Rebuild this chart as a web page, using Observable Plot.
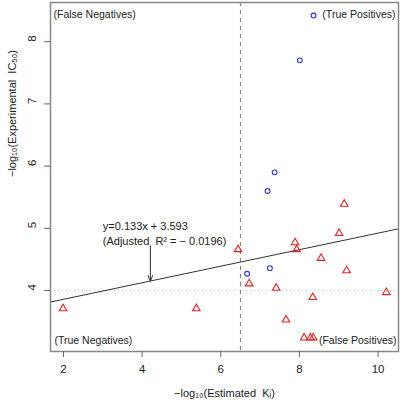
<!DOCTYPE html>
<html>
<head>
<meta charset="utf-8">
<script src="https://cdn.jsdelivr.net/npm/d3@7"></script>
<script src="https://cdn.jsdelivr.net/npm/@observablehq/plot@0.6"></script>
<style>
  html, body { margin: 0; padding: 0; background: #fff; }
</style>
</head>
<body>
<div id="chart"></div>
<script>
// Blue circles (true / positive hits)
const blueX = [8.36, 8.01, 7.37, 7.19, 6.67, 7.25];
const blueY = [8.42, 7.70, 5.90, 5.60, 4.27, 4.36];
// Red triangles
const redX = [9.14, 9.01, 7.89, 7.93, 6.44, 8.55, 9.20, 6.72, 7.41, 10.21, 8.34, 7.66, 8.12, 8.28, 8.35, 1.99, 5.38];
const redY = [5.39, 4.92, 4.77, 4.66, 4.66, 4.52, 4.32, 4.11, 4.04, 3.97, 3.89, 3.53, 3.24, 3.24, 3.24, 3.71, 3.71];

const slope = 0.133, intercept = 3.593;
const xThreshold = 6.5, yThreshold = 4;
const xDomain = [1.67, 10.52], yDomain = [3.02, 8.63];
const xTicks = [2, 4, 6, 8, 10];
const yTicks = [4, 5, 6, 7, 8];
const eqLines = ["y=0.133x + 3.593", "(Adjusted  R\u00B2 = \u2212 0.0196)"];
const eqPos = {x: 3.0, y: [5.03, 4.79]};
const arrowX = 4.21, arrowTailY = 4.72;

const blue = blueX.map((x, i) => ({x, y: blueY[i]}));
const red = redX.map((x, i) => ({x, y: redY[i]}));
const fit = xDomain.map(x => ({x, y: slope * x + intercept}));
const font = "Liberation Sans, Arial, sans-serif";
const fs = 10.5;

const chart = Plot.plot({
  width: 401,
  height: 403,
  marginLeft: 50,
  marginRight: 3,
  marginTop: 2,
  marginBottom: 52,
  style: {fontFamily: font, fontSize: "11px", color: "#222", background: "#fff"},
  x: {domain: xDomain},
  y: {domain: yDomain},
  marks: [
    Plot.ruleY([yThreshold], {stroke: "#c4c4c4", strokeDasharray: "1,3", strokeWidth: 1}),
    Plot.ruleX([xThreshold], {stroke: "#777", strokeDasharray: "4,4", strokeWidth: 1}),
    Plot.line(fit, {x: "x", y: "y", stroke: "#333", strokeWidth: 1}),
    Plot.arrow([{x: arrowX}], {x1: "x", x2: "x", y1: () => arrowTailY, y2: d => slope * d.x + intercept,
      stroke: "#333", strokeWidth: 1, headLength: 9, headAngle: 45}),
    Plot.text(eqLines, {x: () => eqPos.x, y: (d, i) => eqPos.y[i], text: d => d, textAnchor: "start", fontSize: 11, fill: "#222"}),
    Plot.dot(red, {x: "x", y: "y", symbol: "triangle", r: 2.8, stroke: "#dd2222", fill: "none", strokeWidth: 1.1}),
    Plot.dot(blue, {x: "x", y: "y", symbol: "circle", r: 2.4, stroke: "#3333cc", fill: "none", strokeWidth: 1.1}),
    Plot.text(["(False Negatives)"], {frameAnchor: "top-left", dx: 3, dy: 8, textAnchor: "start", fontSize: fs, fill: "#222"}),
    Plot.text(["(True Positives)"], {frameAnchor: "top-right", dx: -3, dy: 8, textAnchor: "end", fontSize: fs, fill: "#222"}),
    Plot.text(["(True Negatives)"], {frameAnchor: "bottom-left", dx: 4, dy: -8, textAnchor: "start", fontSize: fs, fill: "#222"}),
    Plot.text(["(False Positives)"], {frameAnchor: "bottom-right", dx: -2, dy: -8, textAnchor: "end", fontSize: fs, fill: "#222"}),
    Plot.frame({stroke: "#888", strokeWidth: 1.5}),
    Plot.axisX(xTicks, {tickSize: 6, tickPadding: 7, stroke: "#666", fontSize: 11.5, fill: "#222", label: null}),
    Plot.axisY(yTicks, {tickSize: 6, stroke: "#666", label: null, text: null}),
    Plot.text(yTicks, {y: d => d, frameAnchor: "left", dx: -18, rotate: -90, text: d => String(d), fontSize: 11.5, fill: "#222"}),
    Plot.text(["\u2212log\u2081\u2080(Estimated  K\u1D62)"], {frameAnchor: "bottom", dy: 45, fontSize: 11, fill: "#222"}),
    Plot.text(["\u2212log\u2081\u2080(Experimental  IC\u2085\u2080)"], {frameAnchor: "left", dx: -38, rotate: -90, fontSize: 11, fill: "#222"})
  ]
});
document.getElementById("chart").appendChild(chart);
</script>
</body>
</html>
